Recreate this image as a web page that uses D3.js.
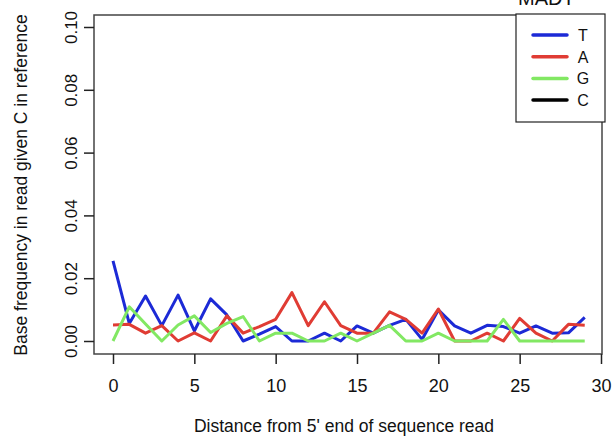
<!DOCTYPE html>
<meta charset="utf-8">
<style>
    body { margin: 0; background: #fff; }
    text { font-family: "Liberation Sans", Arial, sans-serif; fill: #111; }
    .frame { fill: none; stroke: #444; stroke-width: 1.5px; }
    .line { fill: none; stroke-width: 3px; stroke-linejoin: round; }
</style>
<body>
<script src="https://cdn.jsdelivr.net/npm/d3@7"></script>
<script>

    var width = 615,
        height = 440;

    // distance from 5' end
    var positions = d3.range(0, 30);

    var valuesT = [0.0255, 0.0056, 0.0143, 0.0049, 0.0146, 0.0032, 0.0134, 0.0083, 0, 0.0022,
                   0.0046, 0, 0, 0.0025, 0, 0.0048, 0.0025, 0.005, 0.0069, 0.0005,
                   0.0099, 0.0048, 0.0025, 0.005, 0.0046, 0.0025, 0.0048, 0.0025, 0.0026, 0.0075];
    var valuesA = [0.0051, 0.0053, 0.0025, 0.0049, 0, 0.0026, 0, 0.008, 0.0025, 0.0046,
                   0.0069, 0.0154, 0.0049, 0.0125, 0.0049, 0.0025, 0.0025, 0.0093, 0.0069, 0.0025,
                   0.0102, 0, 0, 0.0025, 0, 0.0072, 0.0025, 0, 0.0053, 0.005];
    var valuesG = [0, 0.0109, 0.0054, 0, 0.0051, 0.008, 0.0027, 0.0056, 0.0078, 0,
                   0.0025, 0.0025, 0, 0, 0.0025, 0, 0.0025, 0.005, 0, 0,
                   0.0025, 0, 0, 0, 0.0069, 0, 0, 0, 0, 0];

    var series = [
        {name: "T", color: "#1c2ad6", values: valuesT},
        {name: "A", color: "#e03c34", values: valuesA},
        {name: "G", color: "#82e863", values: valuesG},
        {name: "C", color: "#000000", values: null}   // only in the legend
    ];

    var xTicks = [0, 5, 10, 15, 20, 25, 30],
        yTicks = [0, 0.02, 0.04, 0.06, 0.08, 0.10];

    var box = {left: 94, top: 15, right: 602, bottom: 354};

    var x = d3.scaleLinear().domain([0, 30]).range([113, 601]);
    var y = d3.scaleLinear().domain([0, 0.10]).range([341, 27]);

    var svg = d3.select("body").append("svg")
        .attr("width", width)
        .attr("height", height);

    // title cut off by the top edge
    svg.append("text")
        .attr("x", 518).attr("y", 5)
        .style("font-size", "20px")
        .text("MADT");

    var line = d3.line()
        .x(function(d, i) { return x(positions[i]); })
        .y(function(d) { return y(d); });

    svg.selectAll(".line")
        .data(series.filter(function(s) { return s.values; }))
        .enter().append("path")
        .attr("class", "line")
        .attr("stroke", function(d) { return d.color; })
        .attr("d", function(d) { return line(d.values); });

    svg.append("rect")
        .attr("class", "frame")
        .attr("x", box.left).attr("y", box.top)
        .attr("width", box.right - box.left)
        .attr("height", box.bottom - box.top);

    // x axis
    var xAxis = svg.append("g")
        .attr("transform", "translate(0," + box.bottom + ")")
        .call(d3.axisBottom(x).tickValues(xTicks).tickSize(10).tickPadding(15).tickFormat(d3.format("d")));
    xAxis.select(".domain").remove();
    xAxis.selectAll("line").attr("stroke", "#222").attr("stroke-width", 1.5);
    xAxis.selectAll("text").style("font-size", "18px").style("font-family", "Liberation Sans, Arial, sans-serif").attr("fill", "#111");

    // y axis, labels rotated
    var yAxis = svg.append("g")
        .attr("transform", "translate(" + box.left + ",0)")
        .call(d3.axisLeft(y).tickValues(yTicks).tickSize(10).tickFormat(d3.format(".2f")));
    yAxis.select(".domain").remove();
    yAxis.selectAll("line").attr("stroke", "#222").attr("stroke-width", 1.5);
    yAxis.selectAll("text")
        .attr("x", 0).attr("dy", null)
        .attr("transform", "translate(-17,0) rotate(-90)")
        .attr("text-anchor", "middle")
        .attr("fill", "#111")
        .style("font-size", "17px")
        .style("font-family", "Liberation Sans, Arial, sans-serif");

    svg.append("text")
        .attr("x", 344).attr("y", 432)
        .attr("text-anchor", "middle")
        .style("font-size", "17.5px")
        .text("Distance from 5' end of sequence read");

    svg.append("text")
        .attr("transform", "translate(27,185) rotate(-90)")
        .attr("text-anchor", "middle")
        .style("font-size", "17.5px")
        .text("Base frequency in read given C in reference");

    // legend
    var legend = svg.append("g");
    legend.append("rect")
        .attr("x", 516).attr("y", 14)
        .attr("width", 89).attr("height", 108)
        .attr("fill", "#fff")
        .attr("stroke", "#222").attr("stroke-width", 1.2);

    var item = legend.selectAll(".item")
        .data(series)
        .enter().append("g")
        .attr("transform", function(d, i) { return "translate(0," + (35 + i * 21.7) + ")"; });
    item.append("line")
        .attr("x1", 533).attr("x2", 567)
        .attr("stroke", function(d) { return d.color; })
        .attr("stroke-width", 3.5)
        .attr("stroke-linecap", "round");
    item.append("text")
        .attr("x", 583).attr("y", 6)
        .attr("text-anchor", "middle")
        .style("font-size", "16px")
        .text(function(d) { return d.name; });

</script>
</body>
</html>
